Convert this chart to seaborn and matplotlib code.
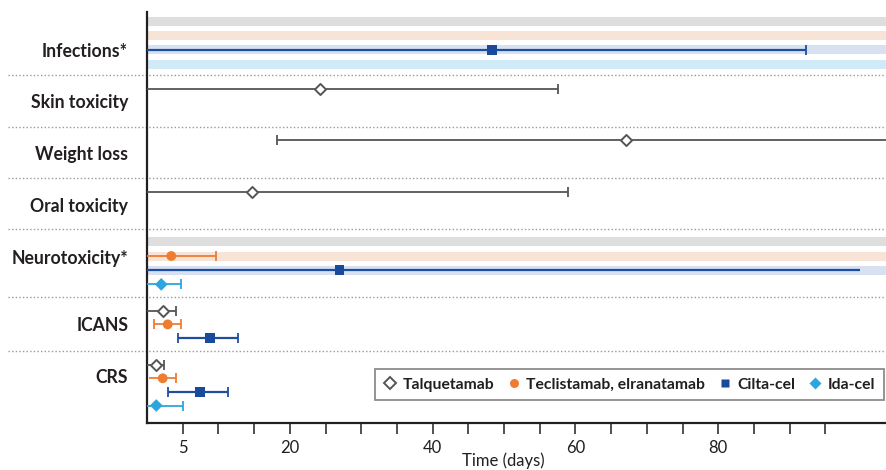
import numpy as np
import pandas as pd
import matplotlib
matplotlib.use("Agg")
import matplotlib.pyplot as plt
from matplotlib.lines import Line2D
import seaborn as sns

# ---------------- data ----------------
categories = ["Infections*", "Skin toxicity", "Weight loss", "Oral toxicity",
              "Neurotoxicity*", "ICANS", "CRS"]
drugs = ["Talquetamab", "Teclistamab, elranatamab", "Cilta-cel", "Ida-cel"]

est_category = ["Infections*", "Skin toxicity", "Weight loss", "Oral toxicity",
                "Neurotoxicity*", "Neurotoxicity*", "Neurotoxicity*",
                "ICANS", "ICANS", "ICANS",
                "CRS", "CRS", "CRS", "CRS"]
est_drug = ["Cilta-cel", "Talquetamab", "Talquetamab", "Talquetamab",
            "Teclistamab, elranatamab", "Cilta-cel", "Ida-cel",
            "Talquetamab", "Teclistamab, elranatamab", "Cilta-cel",
            "Talquetamab", "Teclistamab, elranatamab", "Cilta-cel", "Ida-cel"]
est_median = [48.3, 24.2, 67.1, 14.7, 3.4, 27.0, 2.0, 2.2, 2.9, 8.8, 1.3, 2.2, 7.4, 1.3]
est_low = [0, 0, 18.2, 0, 0, 0, 0, 0, 1.0, 4.4, 0, 0.3, 3.0, 0]
est_high = [92.3, 57.6, np.nan, 58.9, 9.7, 99.8, 4.8, 4.1, 4.7, 12.7, 2.4, 4.1, 11.3, 5.1]
est_low_cap = [False, False, True, False, False, False, False, False, True, True,
               False, False, True, False]
est_high_cap = [True, True, False, True, True, False, True, True, True, True,
                True, True, True, True]

# ongoing-risk bands
band_category = ["Infections*"] * 4 + ["Neurotoxicity*"] * 3
band_drug = drugs + drugs[:3]

x_ticks = list(range(5, 100, 5))
x_tick_labels = {5: "5", 20: "20", 40: "40", 60: "60", 80: "80"}

# ---------------- style / layout ----------------
line_color = {"Talquetamab": "#555555", "Teclistamab, elranatamab": "#ee7d31",
              "Cilta-cel": "#1d4e9e", "Ida-cel": "#2ba6de"}
band_color = {"Talquetamab": "#dedede", "Teclistamab, elranatamab": "#f8e3d7",
              "Cilta-cel": "#d8e1f2", "Ida-cel": "#d0eaf7"}
row_top = [12, 75.3, 127, 178.3, 229.3, 296.7, 350.7]
row_bottom = 423
first_off = [9.5, 13.7, 13.0, 13.4, 12.5, 14.3, 14.0]
spacing = [14.2, 14, 14, 14, 14.2, 13.4, 13.6]
label_y = [50, 101, 153, 205, 257, 324, 376]
XMAX = 103.5
TEXT = "#231f20"


def slot_y(cat, drug):
    r = categories.index(cat)
    d = drugs.index(drug)
    return row_top[r] + first_off[r] + d * spacing[r]


sns.set_theme(style="white")
plt.rcParams["font.family"] = ["Lato", "DejaVu Sans"]

fig = plt.figure(figsize=(8.87, 4.70), dpi=100)
ax = fig.add_axes([147 / 887, 1 - 423 / 470, (886 - 147) / 887, (423 - 12) / 470])

# bands
for c, d in zip(band_category, band_drug):
    ax.barh(slot_y(c, d), XMAX, left=0, height=9, color=band_color[d],
            edgecolor="none", zorder=1)

df = pd.DataFrame({"category": est_category, "drug": est_drug, "median": est_median,
                   "low": est_low, "high": est_high,
                   "low_cap": est_low_cap, "high_cap": est_high_cap})
df["y"] = [slot_y(c, d) for c, d in zip(df["category"], df["drug"])]
df["high_draw"] = df["high"].fillna(XMAX)

for _, r in df.iterrows():
    col = line_color[r["drug"]]
    lw = 1.6 if r["drug"] == "Cilta-cel" else 1.3
    ax.hlines(r["y"], r["low"], r["high_draw"], color=col, lw=lw, zorder=3)
    if r["low_cap"]:
        ax.vlines(r["low"], r["y"] - 5, r["y"] + 5, color=col, lw=1.3, zorder=3)
    if r["high_cap"]:
        ax.vlines(r["high_draw"], r["y"] - 5, r["y"] + 5, color=col, lw=1.3, zorder=3)

marker_style = {
    "Talquetamab": dict(marker="D", s=32, color="white", edgecolor="#555555", linewidth=1.4),
    "Teclistamab, elranatamab": dict(marker="o", s=50, color="#ee7d31", edgecolor="none", linewidth=0),
    "Cilta-cel": dict(marker="s", s=46, color="#1a4a9c", edgecolor="none", linewidth=0),
    "Ida-cel": dict(marker="D", s=42, color="#2ba6de", edgecolor="none", linewidth=0),
}
for d in drugs:
    sub = df[df["drug"] == d]
    sns.scatterplot(data=sub, x="median", y="y", ax=ax, zorder=5, legend=False,
                    **marker_style[d])

# separators (extend into label area)
for yb in row_top[1:]:
    ax.axhline(yb, xmin=-0.188, xmax=1.0, color="#9a9a9a", lw=1.0,
               linestyle=(0, (1, 1.6)), clip_on=False, zorder=2)

ax.set_xlim(0, XMAX)
ax.set_ylim(row_bottom, row_top[0])
ax.set_yticks(label_y)
ax.set_yticklabels(categories, fontsize=12.7, fontweight="bold", color=TEXT)
ax.tick_params(axis="y", length=0, pad=13.5)
ax.set_xticks(x_ticks)
ax.set_xticklabels([x_tick_labels.get(t, "") for t in x_ticks], fontsize=12, color=TEXT)
ax.tick_params(axis="x", direction="out", length=8, width=1.1, color=TEXT,
               bottom=True, pad=4)
ax.set_xlabel("Time (days)", fontsize=12, color=TEXT, labelpad=0)
ax.xaxis.set_label_coords(0.482, -0.072)
ax.set_ylabel("")
for s in ["top", "right"]:
    ax.spines[s].set_visible(False)
for s in ["left", "bottom"]:
    ax.spines[s].set_color(TEXT)
    ax.spines[s].set_linewidth(1.6)

handles = [
    Line2D([], [], linestyle="none", marker="D", markersize=6, markerfacecolor="white",
           markeredgecolor="#555555", markeredgewidth=1.4),
    Line2D([], [], linestyle="none", marker="o", markersize=6.5, markerfacecolor="#ee7d31",
           markeredgecolor="none"),
    Line2D([], [], linestyle="none", marker="s", markersize=6, markerfacecolor="#1a4a9c",
           markeredgecolor="none"),
    Line2D([], [], linestyle="none", marker="D", markersize=6.5, markerfacecolor="#2ba6de",
           markeredgecolor="none"),
]
leg = ax.legend(handles, drugs, loc="lower right", bbox_to_anchor=(0.997, 0.055),
                ncol=4, frameon=True, fancybox=False, framealpha=1, edgecolor="#8c8c8c",
                prop={"family": ["Lato", "DejaVu Sans"], "weight": "bold", "size": 11.3},
                handlelength=0.8, handletextpad=0.4, columnspacing=0.85,
                borderpad=0.55, borderaxespad=0)
leg.get_frame().set_linewidth(1.3)
leg.set_zorder(10)
for t in leg.get_texts():
    t.set_color(TEXT)

fig.savefig("out.png", dpi=100)
